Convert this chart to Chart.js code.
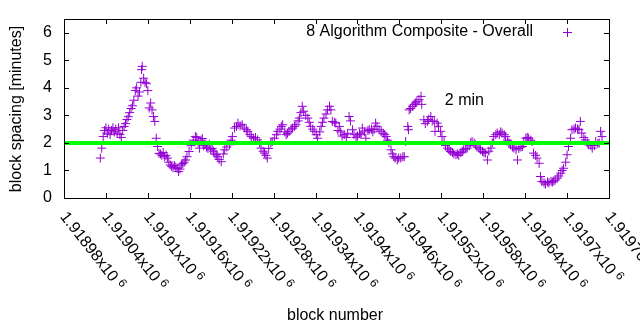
<!DOCTYPE html>
<html>
<head>
<meta charset="utf-8">
<script src="https://cdn.jsdelivr.net/npm/chart.js@4.4.1/dist/chart.umd.min.js"></script>
<style>
  html, body { margin: 0; padding: 0; background: #fff; }
  canvas { display: block; }
</style>
</head>
<body>
<canvas id="spacingChart" width="640" height="330"></canvas>
<script>
// block heights and the measured spacing (minutes) at each
const blockNumbers = [
  1919032,1919034,1919036,1919038,1919040,1919042,1919044,1919046,1919048,1919050,
  1919052,1919054,1919056,1919058,1919060,1919062,1919064,1919066,1919068,1919070,
  1919072,1919074,1919076,1919078,1919080,1919082,1919084,1919086,1919088,1919090,
  1919091,1919092,1919094,1919096,1919098,1919100,1919102,1919104,1919106,1919108,
  1919110,1919112,1919114,1919116,1919118,1919120,1919122,1919124,1919126,1919128,
  1919130,1919132,1919134,1919136,1919138,1919140,1919142,1919144,1919146,1919148,
  1919150,1919152,1919154,1919156,1919159,1919162,1919165,1919168,1919170,1919172,
  1919174,1919176,1919178,1919180,1919182,1919184,1919186,1919188,1919190,1919192,
  1919194,1919196,1919198,1919200,1919202,1919205,1919208,1919210,1919213,1919217,
  1919219,1919221,1919224,1919227,1919229,1919232,1919235,1919238,1919241,1919243,
  1919246,1919248,1919251,1919254,1919257,1919260,1919262,1919265,1919267,1919269,
  1919271,1919273,1919276,1919278,1919281,1919284,1919286,1919289,1919291,1919293,
  1919296,1919298,1919300,1919302,1919305,1919307,1919310,1919312,1919315,1919317,
  1919319,1919321,1919323,1919326,1919329,1919331,1919333,1919336,1919338,1919341,
  1919343,1919346,1919348,1919350,1919352,1919355,1919357,1919360,1919362,1919364,
  1919367,1919369,1919372,1919374,1919376,1919378,1919381,1919384,1919386,1919388,
  1919390,1919393,1919395,1919398,1919400,1919403,1919405,1919407,1919410,1919412,
  1919415,1919417,1919420,1919422,1919424,1919426,1919428,1919431,1919434,1919437,
  1919439,1919441,1919443,1919445,1919448,1919450,1919452,1919454,1919457,1919459,
  1919462,1919465,1919467,1919469,1919472,1919473,1919474,1919476,1919479,1919481,
  1919483,1919485,1919488,1919491,1919492,1919495,1919497,1919500,1919502,1919505,
  1919507,1919510,1919511,1919514,1919516,1919519,1919521,1919524,1919526,1919529,
  1919531,1919533,1919536,1919538,1919541,1919543,1919545,1919548,1919550,1919552,
  1919555,1919557,1919560,1919562,1919564,1919567,1919569,1919571,1919574,1919576,
  1919579,1919581,1919583,1919586,1919588,1919591,1919593,1919595,1919598,1919600,
  1919603,1919605,1919607,1919610,1919612,1919615,1919617,1919619,1919622,1919624,
  1919627,1919629,1919631,1919634,1919636,1919638,1919641,1919643,1919645,1919648,
  1919650,1919652,1919655,1919657,1919660,1919662,1919664,1919667,1919669,1919672,
  1919674,1919677,1919679,1919681,1919683,1919686,1919688,1919691,1919693,1919695,
  1919698,1919700,1919702,1919705,1919707,1919710,1919712,1919715,1919717,1919719,
  1919721,1919724,1919726,1919729,1919731,1919734,1919736,1919739,1919741,1919744,
  1919746,1919748,1919750
];
const spacingMinutes = [
  1.45,1.81,2.23,2.45,2.55,2.35,2.5,2.3,2.45,2.55,
  2.4,2.5,2.35,2.55,2.3,2.2,2.45,2.6,2.7,2.85,
  2.95,3.1,3.25,3.35,3.55,3.9,4.0,3.7,3.85,4.2,
  4.66,4.78,4.35,4.2,4.15,3.9,3.27,3.45,3.2,2.96,
  2.78,2.17,1.87,1.62,1.6,1.55,1.65,1.5,1.55,1.45,
  1.3,1.2,1.15,1.1,1.18,1.12,1.08,0.96,1.05,1.2,
  1.25,1.3,1.38,1.5,1.69,1.9,2.1,2.23,2.2,2.0,
  1.81,2.1,2.16,1.9,1.95,1.85,1.8,1.95,1.75,1.8,
  1.7,1.6,1.57,1.5,1.4,1.32,1.6,1.75,1.85,1.93,
  2.1,2.23,2.54,2.6,2.72,2.62,2.66,2.54,2.48,2.42,
  2.3,2.23,2.17,2.2,2.11,2.0,1.81,1.7,1.63,1.55,
  1.45,1.8,2.0,2.05,2.17,2.3,2.42,2.5,2.6,2.66,
  2.4,2.3,2.35,2.42,2.5,2.54,2.6,2.66,2.8,2.9,
  3.1,3.33,3.15,3.0,2.9,2.75,2.6,2.5,2.42,2.3,
  2.17,2.4,2.6,2.75,2.9,3.05,3.2,3.33,3.2,2.78,
  2.75,2.72,2.45,2.6,2.4,2.25,2.3,2.2,2.35,2.96,
  2.8,2.48,2.3,2.2,2.25,2.35,2.3,2.54,2.4,2.17,
  2.45,2.48,2.5,2.4,2.5,2.72,2.6,2.48,2.42,2.35,
  2.3,2.23,2.1,2.0,1.75,1.6,1.5,1.45,1.38,1.45,
  1.45,1.5,1.5,2.05,2.6,2.48,3.2,3.25,3.33,3.4,
  3.45,3.5,3.57,3.69,3.4,2.84,2.7,2.78,2.85,2.96,
  2.8,2.78,2.42,2.72,2.6,2.42,2.23,2.05,1.9,1.81,
  1.75,1.69,1.65,1.6,1.57,1.6,1.55,1.65,1.7,1.75,
  1.78,1.81,1.9,2.0,2.05,2.0,1.93,1.85,1.81,1.75,
  1.69,1.65,1.63,1.38,1.7,1.81,2.0,2.23,2.3,2.36,
  2.3,2.4,2.36,2.3,2.23,2.1,2.0,1.93,1.85,1.81,
  1.75,1.38,1.8,1.85,1.87,2.0,2.17,2.2,2.17,2.1,
  2.05,1.63,1.55,1.45,1.26,0.78,0.6,0.55,0.5,0.58,
  0.55,0.6,0.58,0.62,0.65,0.72,0.8,0.9,1.0,1.08,
  1.3,1.57,1.87,2.17,2.48,2.5,2.54,2.5,2.48,2.78,
  2.36,2.2,2.11,2.0,1.93,1.9,1.81,1.9,2.05,1.98,
  2.0,2.42,2.23
];

// target spacing reference line
const targetMinutes = 2;
const targetLabel = '2 min';
const targetLabelAt = [1919525, 3.53];

const seriesName = '8 Algorithm Composite - Overall';

// axis ranges and tics
const blockMin = 1918980;
const blockMax = 1919760;
const xTicks = [1918980,1919040,1919100,1919160,1919220,1919280,1919340,
                1919400,1919460,1919520,1919580,1919640,1919700,1919760];
const xTickMantissa = ['1.91898','1.91904','1.9191','1.91916','1.91922','1.91928','1.91934',
                       '1.9194','1.91946','1.91952','1.91958','1.91964','1.9197','1.91976'];
const xTickExponent = '6';
const yTicks = [0, 1, 2, 3, 4, 5, 6];
const yMax = 6.5;

const FONT = '"Liberation Sans", Arial, sans-serif';
const POINT_COLOR = '#9400d3';
const LINE_COLOR = '#00ff00';

const points = blockNumbers.map((b, i) => ({ x: b, y: spacingMinutes[i] }));

// gnuplot-like frame, inward tics, rotated tic labels, titles and key
const gnuFrame = {
  id: 'gnuFrame',
  afterDraw(chart) {
    const { ctx, chartArea: a, scales } = chart;
    const xs = scales.x, ys = scales.y;
    const tic = 5;
    ctx.save();
    ctx.strokeStyle = '#000';
    ctx.lineWidth = 1;
    ctx.strokeRect(a.left + 0.5, a.top + 0.5, a.right - a.left, a.bottom - a.top);

    ctx.beginPath();
    yTicks.forEach(v => {
      const py = Math.round(ys.getPixelForValue(v)) + 0.5;
      ctx.moveTo(a.left, py); ctx.lineTo(a.left + tic, py);
      ctx.moveTo(a.right, py); ctx.lineTo(a.right - tic, py);
    });
    xTicks.forEach(v => {
      const px = Math.round(xs.getPixelForValue(v)) + 0.5;
      ctx.moveTo(px, a.bottom); ctx.lineTo(px, a.bottom - tic);
      ctx.moveTo(px, a.top); ctx.lineTo(px, a.top + tic);
    });
    ctx.stroke();

    ctx.fillStyle = '#000';
    ctx.font = '16px ' + FONT;
    ctx.textAlign = 'right';
    ctx.textBaseline = 'middle';
    yTicks.forEach(v => {
      ctx.fillText(String(v), a.left - 12, ys.getPixelForValue(v));
    });

    // x tic labels run down and to the right
    xTicks.forEach((v, i) => {
      const px = xs.getPixelForValue(v);
      ctx.save();
      ctx.translate(px - 1, a.bottom + 16);
      ctx.rotate(52 * Math.PI / 180);
      ctx.textAlign = 'left';
      ctx.textBaseline = 'middle';
      ctx.font = '16px ' + FONT;
      const main = xTickMantissa[i] + 'x10';
      ctx.fillText(main, 0, 0);
      const w = ctx.measureText(main).width;
      ctx.font = '12px ' + FONT;
      ctx.fillText(xTickExponent, w + 4, -4);
      ctx.restore();
    });

    // axis titles
    ctx.font = '16px ' + FONT;
    ctx.textAlign = 'center';
    ctx.textBaseline = 'middle';
    ctx.fillText('block number', 335, 316);
    ctx.save();
    ctx.translate(17, 109);
    ctx.rotate(-Math.PI / 2);
    ctx.fillText('block spacing [minutes]', 0, 0);
    ctx.restore();

    // key
    ctx.textAlign = 'right';
    ctx.fillText(seriesName, 533, 32);
    ctx.strokeStyle = POINT_COLOR;
    ctx.beginPath();
    ctx.moveTo(563, 32.5); ctx.lineTo(572, 32.5);
    ctx.moveTo(567.5, 28); ctx.lineTo(567.5, 37);
    ctx.stroke();

    // target label
    ctx.fillStyle = '#000';
    ctx.textAlign = 'left';
    ctx.fillText(targetLabel, xs.getPixelForValue(targetLabelAt[0]), ys.getPixelForValue(targetLabelAt[1]));
    ctx.restore();
  }
};

new Chart(document.getElementById('spacingChart'), {
  type: 'scatter',
  data: {
    datasets: [
      {
        label: targetLabel,
        data: [{ x: blockMin, y: targetMinutes }, { x: blockMax, y: targetMinutes }],
        showLine: true,
        borderColor: LINE_COLOR,
        borderWidth: 4,
        pointRadius: 0,
        order: 0,
      },
      {
        label: seriesName,
        data: points,
        pointStyle: 'cross',
        pointRadius: 4.5,
        borderColor: POINT_COLOR,
        backgroundColor: POINT_COLOR,
        borderWidth: 1,
        order: 1,
      },
    ],
  },
  options: {
    responsive: false,
    animation: false,
    layout: { autoPadding: false, padding: { left: 64, right: 31, top: 19, bottom: 132 } },
    scales: {
      x: { type: 'linear', min: blockMin, max: blockMax, display: false },
      y: { type: 'linear', min: 0, max: yMax, display: false },
    },
    plugins: {
      legend: { display: false },
      tooltip: { enabled: false },
    },
  },
  plugins: [gnuFrame],
});
</script>
</body>
</html>
